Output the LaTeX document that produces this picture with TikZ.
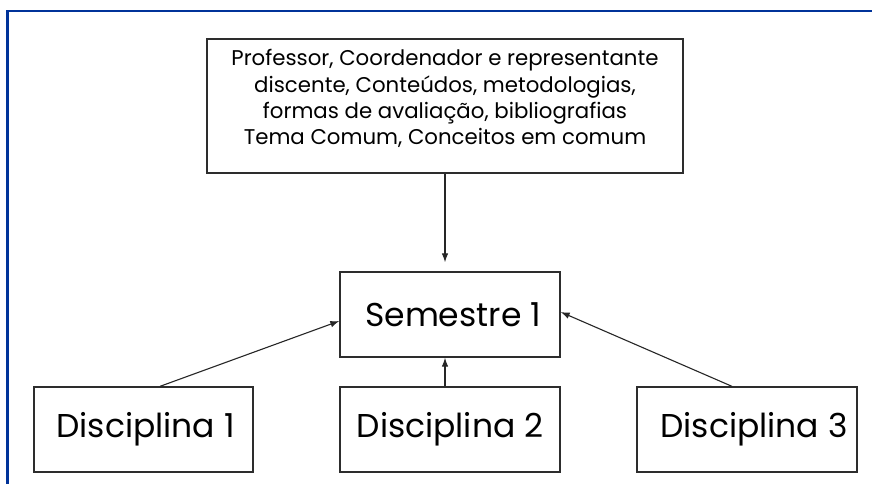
\documentclass[tikz,border=0pt]{standalone}
\usepackage{fontspec}
\setmainfont{Poppins}
\usetikzlibrary{arrows.meta}
\definecolor{framblue}{RGB}{0,51,153}
\definecolor{boxline}{RGB}{45,45,45}
\tikzset{
  box/.style={draw=boxline, line width=1.3pt, inner sep=0pt, align=center, text=black},
  bigtext/.style={font=\fontsize{33}{40}\selectfont},
  smalltext/.style={font=\fontsize{21.3}{26.3}\selectfont},
  conn/.style={draw=black!85, line width=1.1pt, -{Latex[length=9pt,width=6.5pt]}},
}
\begin{document}
\begin{tikzpicture}[x=1pt,y=-1pt]
\useasboundingbox (0,0) rectangle (872,484);
\fill[white] (0,0) rectangle (872,484);
\draw[framblue, line width=2.2pt] (872,11) -- (7.5,11) -- (7.5,484);

\node[box, smalltext, minimum width=476pt, minimum height=134pt] (top) at (445,106)
  {\smash{\raisebox{0.75pt}{\begin{tabular}{@{}c@{}}Professor, Coordenador e representante\\discente, Conteúdos, metodologias,\\formas de avaliação, bibliografias\\Tema Comum, Conceitos em comum\end{tabular}}}};
\node[box, bigtext, minimum width=220pt, minimum height=85pt] (sem) at (450,314.5) {\hspace{6pt}Semestre 1};
\node[box, bigtext, minimum width=219pt, minimum height=85pt] (d1) at (143.5,429.5) {\hspace{4pt}Disciplina 1};
\node[box, bigtext, minimum width=220pt, minimum height=85pt] (d2) at (450,429.5) {Disciplina 2};
\node[box, bigtext, minimum width=220pt, minimum height=85pt] (d3) at (747,429.5) {\hspace{14pt}Disciplina 3};

\draw[conn, shorten >=9pt] (top.south) -- ([xshift=-5pt]sem.north);
\draw[conn] ([xshift=16.5pt]d1.north) -- ([yshift=-6.5pt]sem.west);
\draw[conn] ([xshift=-5pt]d2.north) -- ([xshift=-5pt]sem.south);
\draw[conn] ([xshift=-15pt]d3.north) -- ([yshift=2.5pt]sem.east);
\end{tikzpicture}
\end{document}
